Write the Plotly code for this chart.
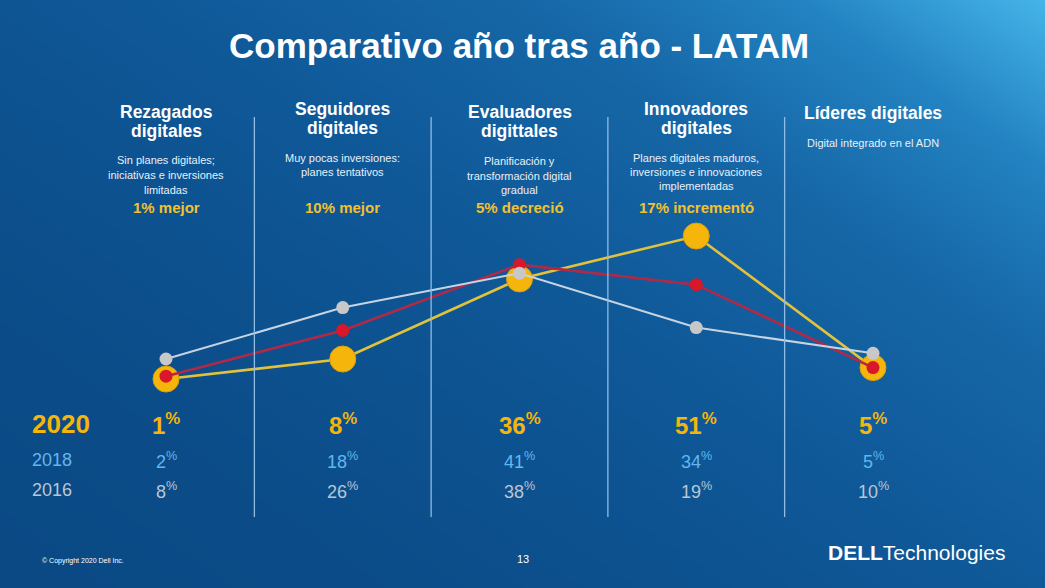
import numpy as np
import plotly.graph_objects as go

# ---------------- data ----------------
categories = ["Rezagados digitales", "Seguidores digitales", "Evaluadores digittales",
              "Innovadores digitales", "Líderes digitales"]
header_lines = [["Rezagados", "digitales"], ["Seguidores", "digitales"],
                ["Evaluadores", "digittales"], ["Innovadores", "digitales"],
                ["Líderes digitales"]]
desc_lines = [["Sin planes digitales;", "iniciativas e inversiones", "limitadas"],
              ["Muy pocas inversiones:", "planes tentativos"],
              ["Planificación y", "transformación digital", "gradual"],
              ["Planes digitales maduros,", "inversiones e innovaciones", "implementadas"],
              ["Digital integrado en el ADN"]]
change_text = ["1% mejor", "10% mejor", "5% decreció", "17% incrementó", ""]
years = ["2020", "2018", "2016"]
v2020 = [1, 8, 36, 51, 5]
v2018 = [2, 18, 41, 34, 5]
v2016 = [8, 26, 38, 19, 10]

W, H = 1045, 588
FONT = "Arial, Liberation Sans, sans-serif"

# axis mapping (column index -> pixel, value -> pixel)
X0, DX = 166.0, 176.75
Y0, DY = 381.9, 2.86
xr = [(0 - X0) / DX, (W - X0) / DX]
yr = [(Y0 - H) / DY, (Y0 - 0) / DY]

def yp(px):
    return 1 - px / H

fig = go.Figure()

# background gradient (style only)
gx = np.linspace(xr[0], xr[1], 60)
gy = np.linspace(yr[0], yr[1], 40)
GX, GY = np.meshgrid(gx, gy)
fx = (GX - xr[0]) / (xr[1] - xr[0])
fy = (GY - yr[0]) / (yr[1] - yr[0])  # 1 = top
t = 0.55 * fx + 0.45 * fy
t = np.clip(t, 0, 1) ** 1.6
fig.add_trace(go.Heatmap(x=gx, y=gy, z=t, zmin=0, zmax=1, zsmooth="best",
                         showscale=False, hoverinfo="skip",
                         colorscale=[[0, "#0a4984"], [0.35, "#0f5898"], [0.6, "#1667a7"],
                                     [0.8, "#2383c2"], [1, "#45b4e8"]]))

xs = list(range(len(categories)))
fig.add_trace(go.Scatter(x=xs, y=v2020, mode="lines+markers", name="2020",
                         line=dict(color="#e2c23a", width=2.6),
                         marker=dict(size=26, color="#f5b50a", line=dict(color="#d9a010", width=1))))
fig.add_trace(go.Scatter(x=xs, y=v2018, mode="lines+markers", name="2018",
                         line=dict(color="#b02a48", width=2.6),
                         marker=dict(size=13, color="#d8172b")))
fig.add_trace(go.Scatter(x=xs, y=v2016, mode="lines+markers", name="2016",
                         line=dict(color="#c6d4e2", width=2),
                         marker=dict(size=13, color="#c8c8c8")))

# separators
shapes = []
for i in range(len(categories) - 1):
    shapes.append(dict(type="line", xref="x", yref="paper", x0=i + 0.5, x1=i + 0.5,
                       y0=yp(117), y1=yp(517), line=dict(color="#8fbde6", width=1.3)))

ann = []
def txt(x, ypx, text, size, color, xref="x", xanchor="center"):
    ann.append(dict(x=x, y=yp(ypx), xref=xref, yref="paper", text=text, showarrow=False,
                    xanchor=xanchor, yanchor="middle",
                    font=dict(family=FONT, size=size, color=color)))

# title
txt(519 / W, 46, "<b>Comparativo año tras año - LATAM</b>", 35, "white", xref="paper")

head_y = [[112, 131], [109, 128], [112, 131], [109, 128], [113]]
desc_y = [[160, 175, 190], [158, 172], [161, 176, 190], [158, 172, 186], [143]]
for i in xs:
    for ln, yy in zip(header_lines[i], head_y[i]):
        txt(i, yy, f"<b>{ln}</b>", 17.5, "white")
    for ln, yy in zip(desc_lines[i], desc_y[i]):
        txt(i, yy, ln, 11, "#e8f0f8")
    if change_text[i]:
        txt(i, 207, f"<b>{change_text[i]}</b>", 15, "#f2c12e")

# bottom table
row_y = [424, 460, 490]
row_col = ["#f5b50a", "#62b6f0", "#b9c6d4"]
row_vals = [v2020, v2018, v2016]
ann.append(dict(x=30 / W, y=yp(424), xref="paper", yref="paper", text="<b>2020</b>",
                showarrow=False, xanchor="left", yanchor="middle",
                font=dict(family=FONT, size=26, color=row_col[0])))
for r in (1, 2):
    ann.append(dict(x=30 / W, y=yp(row_y[r]), xref="paper", yref="paper", text=years[r],
                    showarrow=False, xanchor="left", yanchor="middle",
                    font=dict(family=FONT, size=18, color=row_col[r])))
for r in range(3):
    for i in xs:
        v = row_vals[r][i]
        s = f"<b>{v}<sup>%</sup></b>" if r == 0 else f"{v}<sup>%</sup>"
        txt(i, row_y[r], s, 24 if r == 0 else 18, row_col[r])

# footer
ann.append(dict(x=40 / W, y=yp(561), xref="paper", yref="paper", text="© Copyright 2020 Dell Inc.",
                showarrow=False, xanchor="left", yanchor="middle",
                font=dict(family=FONT, size=7, color="white")))
txt(523 / W, 559, "13", 11, "white", xref="paper")
ann.append(dict(x=1007 / W, y=yp(552), xref="paper", yref="paper",
                text="<b>DELL</b>Technologies", showarrow=False, xanchor="right",
                yanchor="middle", font=dict(family=FONT, size=21, color="white")))

fig.update_layout(width=W, height=H, margin=dict(l=0, r=0, t=0, b=0),
                  paper_bgcolor="#0f5898", plot_bgcolor="#0f5898",
                  showlegend=False, shapes=shapes, annotations=ann,
                  xaxis=dict(range=xr, visible=False, fixedrange=True),
                  yaxis=dict(range=yr, visible=False, fixedrange=True))
fig.write_html("out.html", config={"displayModeBar": False},
               post_script="document.body.style.margin='0';document.body.style.overflow='hidden';")
